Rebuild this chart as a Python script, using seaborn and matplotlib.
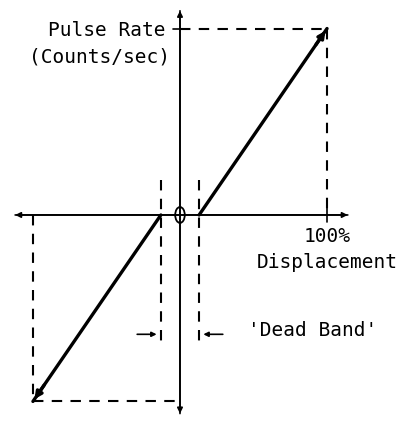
import matplotlib
matplotlib.use('Agg')
import matplotlib.pyplot as plt
import seaborn as sns
import pandas as pd
from matplotlib.patches import Ellipse

# Dados do diagrama (deslocamento em %, taxa de pulsos em %)
segmento = ['neg', 'neg', 'pos', 'pos']
deslocamento = [-100, -13, 13, 100]
taxa = [-100, 0, 0, 100]
banda_morta = [-13, 13]
rotulo_y = ['Pulse Rate', '(Counts/sec)']
rotulo_x = ['100%', 'Displacement']
rotulo_banda = "'Dead Band'"

df = pd.DataFrame({'segmento': segmento, 'deslocamento': deslocamento, 'taxa': taxa})

sns.set_style('white')
plt.rcParams['font.family'] = ['DejaVu Sans Mono']
plt.rcParams['text.color'] = 'black'

fig = plt.figure(figsize=(4.11, 4.21), dpi=100)
ax = fig.add_axes([0, 0, 1, 1])
ax.set_xlim(-122.4, 157.1)
ax.set_ylim(-110.5, 115.3)
ax.axis('off')

# eixos com setas
seta = dict(arrowstyle='-|>', lw=1.2, color='black', mutation_scale=8)
ax.annotate('', xy=(-114, 0), xytext=(116, 0), arrowprops=seta)
ax.annotate('', xy=(116, 0), xytext=(-114, 0), arrowprops=seta)
ax.annotate('', xy=(0, 111), xytext=(0, -108), arrowprops=seta)
ax.annotate('', xy=(0, -108), xytext=(0, 111), arrowprops=seta)

# marcas
ax.plot([-5, 5], [100, 100], color='black', lw=1.2)
ax.plot([100, 100], [-4, 4], color='black', lw=1.2)

# linhas tracejadas
dash = dict(color='black', lw=1.5, linestyle=(0, (5, 4)))
ax.plot([0, 100], [100, 100], **dash)
ax.plot([100, 100], [100, 0], **dash)
ax.plot([-100, -100], [0, -100], **dash)
ax.plot([-100, 0], [-100, -100], **dash)
for b in banda_morta:
    ax.plot([b, b], [19, -68], **dash)

# curva de transferência
sns.lineplot(data=df, x='deslocamento', y='taxa', units='segmento', estimator=None,
             color='black', lw=2.4, ax=ax, legend=False)
for seg in ['neg', 'pos']:
    d = df[df['segmento'] == seg]
    ponta = d.loc[d['taxa'].abs().idxmax()]
    base = d.loc[d['taxa'].abs().idxmin()]
    ax.annotate('', xy=(ponta['deslocamento'], ponta['taxa']),
                xytext=(ponta['deslocamento'] - (ponta['deslocamento'] - base['deslocamento']) * 0.1,
                        ponta['taxa'] * 0.9),
                arrowprops=dict(arrowstyle='-|>', lw=2.4, color='black', mutation_scale=10))

# origem
ax.add_patch(Ellipse((0, 0), 6.5, 8.5, fill=False, lw=1.3, color='black'))

# setas da banda morta
seta_b = dict(arrowstyle='-|>', lw=1.2, color='black', mutation_scale=7)
ax.annotate('', xy=(banda_morta[0] - 1, -64), xytext=(banda_morta[0] - 18, -64), arrowprops=seta_b)
ax.annotate('', xy=(banda_morta[1] + 1, -64), xytext=(banda_morta[1] + 18, -64), arrowprops=seta_b)

# textos
ax.text(-10, 99.2, rotulo_y[0], ha='right', va='center', fontsize=14)
ax.text(-6.5, 84.7, rotulo_y[1], ha='right', va='center', fontsize=14)
ax.text(100, -11.8, rotulo_x[0], ha='center', va='center', fontsize=14)
ax.text(100, -25.7, rotulo_x[1], ha='center', va='center', fontsize=14)
ax.text(46, -62.2, rotulo_banda, ha='left', va='center', fontsize=14)

plt.savefig('out.png', dpi=100)
plt.close()
